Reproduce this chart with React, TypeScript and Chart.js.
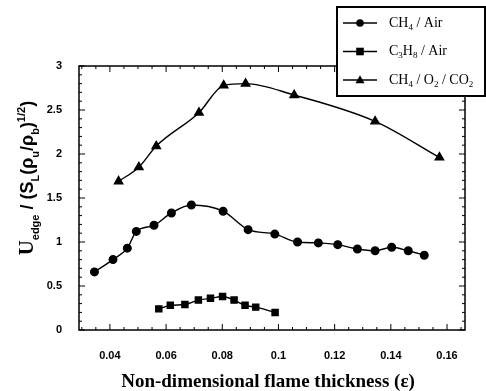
import React, { useEffect, useRef } from 'react';
import { Chart, registerables } from 'chart.js';

Chart.register(...registerables);

// ---- data ----
const seriesLabels = ['CH4 / Air', 'C3H8 / Air', 'CH4 / O2 / CO2'];

const ch4AirX = [0.0345, 0.0411, 0.0462, 0.0494, 0.0557, 0.0619, 0.069, 0.0803, 0.0892, 0.0987, 0.1068, 0.1142, 0.1211, 0.1281, 0.1344, 0.1403, 0.1462, 0.1519];
const ch4AirY = [0.66, 0.8, 0.93, 1.12, 1.19, 1.33, 1.42, 1.35, 1.14, 1.09, 1.0, 0.99, 0.97, 0.92, 0.9, 0.94, 0.9, 0.85];

const c3h8AirX = [0.0574, 0.0615, 0.0667, 0.0715, 0.0758, 0.0801, 0.0842, 0.0881, 0.0919, 0.0988];
const c3h8AirY = [0.24, 0.28, 0.29, 0.34, 0.36, 0.38, 0.34, 0.28, 0.26, 0.2];

const ch4O2Co2X = [0.0431, 0.0503, 0.0565, 0.0717, 0.0805, 0.0883, 0.1056, 0.1344, 0.1573];
const ch4O2Co2Y = [1.69, 1.85, 2.09, 2.47, 2.78, 2.8, 2.67, 2.37, 1.96];

const xTicks = [0.04, 0.06, 0.08, 0.1, 0.12, 0.14, 0.16];
const yTicks = [0, 0.5, 1, 1.5, 2, 2.5, 3];
const xTitle = 'Non-dimensional flame thickness (\u03b5)';

const markerStyles = ['circle', 'rect', 'triangle'];

const SERIF = '"Liberation Serif", "DejaVu Serif", serif';
const SANS = '"Liberation Sans", Arial, sans-serif';

type Seg = { t: string; pos?: 'sub' | 'sup'; font?: string; scale?: number };

function segSize(s: Seg, size: number) {
  const base = size * (s.scale || 1);
  return s.pos ? Math.round(size * 0.62) : base;
}

function drawSegs(ctx: CanvasRenderingContext2D, segs: Seg[], x: number, y: number, size: number, baseFont: string, weight: string) {
  let cx = x;
  for (const s of segs) {
    const fam = s.font || baseFont;
    const sz = segSize(s, size);
    ctx.font = `${weight} ${sz}px ${fam}`;
    const dy = s.pos === 'sub' ? size * 0.32 : s.pos === 'sup' ? -size * 0.45 : 0;
    ctx.fillText(s.t, cx, y + dy);
    cx += ctx.measureText(s.t).width;
  }
  return cx - x;
}

function measureSegs(ctx: CanvasRenderingContext2D, segs: Seg[], size: number, baseFont: string, weight: string) {
  let w = 0;
  for (const s of segs) {
    const fam = s.font || baseFont;
    ctx.font = `${weight} ${segSize(s, size)}px ${fam}`;
    w += ctx.measureText(s.t).width;
  }
  return w;
}

function labelToSegs(label: string): Seg[] {
  const segs: Seg[] = [];
  for (const ch of label) {
    const isDigit = /[0-9]/.test(ch);
    const last = segs[segs.length - 1];
    const pos = isDigit ? 'sub' : undefined;
    if (last && last.pos === pos) last.t += ch;
    else segs.push({ t: ch, pos });
  }
  return segs;
}

function drawMarker(ctx: CanvasRenderingContext2D, style: string, x: number, y: number) {
  ctx.beginPath();
  if (style === 'circle') {
    ctx.arc(x, y, 3.8, 0, Math.PI * 2);
  } else if (style === 'rect') {
    ctx.rect(x - 3.8, y - 3.8, 7.6, 7.6);
  } else {
    ctx.moveTo(x, y - 4.8);
    ctx.lineTo(x + 4.5, y + 3.2);
    ctx.lineTo(x - 4.5, y + 3.2);
    ctx.closePath();
  }
  ctx.fill();
}

const framePlugin = {
  id: 'framePlugin',
  afterDraw(chart: any) {
    const ctx: CanvasRenderingContext2D = chart.ctx;
    const a = chart.chartArea;
    const xs = chart.scales.x;
    const ys = chart.scales.y;
    ctx.save();
    ctx.strokeStyle = '#000';
    ctx.fillStyle = '#000';
    ctx.lineWidth = 1.5;
    ctx.strokeRect(a.left, a.top, a.right - a.left, a.bottom - a.top);

    ctx.lineWidth = 1;
    ctx.beginPath();
    for (let i = 0; i <= 40; i++) {
      const v = 0.02 + i * 0.005;
      if (v < xs.min || v > xs.max) continue;
      const major = Math.abs(v / 0.02 - Math.round(v / 0.02)) < 1e-6;
      const len = major ? 6 : 3;
      const px = xs.getPixelForValue(v);
      ctx.moveTo(px, a.bottom);
      ctx.lineTo(px, a.bottom - len);
      ctx.moveTo(px, a.top);
      ctx.lineTo(px, a.top + len);
    }
    for (let i = 0; i <= 30; i++) {
      const v = i * 0.1;
      const major = i % 5 === 0;
      const len = major ? 6 : 3;
      const py = ys.getPixelForValue(v);
      ctx.moveTo(a.left, py);
      ctx.lineTo(a.left + len, py);
      ctx.moveTo(a.right, py);
      ctx.lineTo(a.right - len, py);
    }
    ctx.stroke();

    // x title
    ctx.textBaseline = 'alphabetic';
    ctx.textAlign = 'center';
    ctx.font = `bold 19px ${SERIF}`;
    ctx.fillText(xTitle, 268, 387);

    // y title (rotated)
    const ySegs: Seg[] = [
      { t: 'U', font: SERIF, scale: 1.15 },
      { t: 'edge', pos: 'sub' },
      { t: ' / (S' },
      { t: 'L', pos: 'sub' },
      { t: '(\u03c1' },
      { t: 'u', pos: 'sub' },
      { t: '/\u03c1' },
      { t: 'b', pos: 'sub' },
      { t: ')' },
      { t: '1/2', pos: 'sup' },
      { t: ')' },
    ];
    ctx.save();
    ctx.translate(33, 178);
    ctx.rotate(-Math.PI / 2);
    ctx.textAlign = 'left';
    const w = measureSegs(ctx, ySegs, 18, SANS, 'bold');
    drawSegs(ctx, ySegs, -w / 2, 0, 18, SANS, 'bold');
    ctx.restore();

    // legend
    const bx = 337, by = 7, bw = 148, bh = 89;
    ctx.fillStyle = '#fff';
    ctx.fillRect(bx, by, bw, bh);
    ctx.fillStyle = '#000';
    ctx.lineWidth = 2;
    ctx.strokeRect(bx, by, bw, bh);
    ctx.textAlign = 'left';
    ctx.textBaseline = 'middle';
    chart.data.datasets.forEach((ds: any, i: number) => {
      const ry = 23 + i * 28.5;
      ctx.lineWidth = 1.3;
      ctx.beginPath();
      ctx.moveTo(343, ry);
      ctx.lineTo(377, ry);
      ctx.stroke();
      drawMarker(ctx, markerStyles[i], 360, ry);
      drawSegs(ctx, labelToSegs(ds.label), 389, ry, 14, SERIF, 'normal');
    });
    ctx.restore();
  },
};

export default function App() {
  const ref = useRef<HTMLCanvasElement | null>(null);
  useEffect(() => {
    const mk = (xs: number[], ys: number[]) => xs.map((x, i) => ({ x, y: ys[i] }));
    const common = {
      borderColor: '#000',
      backgroundColor: '#000',
      borderWidth: 1.4,
      pointBorderColor: '#000',
      pointBackgroundColor: '#000',
      cubicInterpolationMode: 'monotone',
      fill: false,
    };
    const chart = new Chart(ref.current as HTMLCanvasElement, {
      type: 'line',
      data: {
        datasets: [
          { ...common, label: seriesLabels[0], data: mk(ch4AirX, ch4AirY), pointStyle: 'circle', pointRadius: 3.8 },
          { ...common, label: seriesLabels[1], data: mk(c3h8AirX, c3h8AirY), pointStyle: 'rect', pointRadius: 4.3 },
          { ...common, label: seriesLabels[2], data: mk(ch4O2Co2X, ch4O2Co2Y), pointStyle: 'triangle', pointRadius: 4.8 },
        ],
      },
      options: {
        responsive: false,
        animation: false,
        events: [],
        layout: { padding: { left: 0, top: 66, right: 21, bottom: 0 } },
        plugins: { legend: { display: false }, tooltip: { enabled: false }, title: { display: false } },
        scales: {
          x: {
            type: 'linear',
            min: 0.029,
            max: 0.1664,
            grid: { display: false, drawTicks: false },
            border: { display: false },
            afterBuildTicks: (s: any) => { s.ticks = xTicks.map((v) => ({ value: v })); },
            afterFit: (s: any) => { s.height = 61; },
            ticks: {
              padding: 19,
              color: '#000',
              maxRotation: 0,
              autoSkip: false,
              font: { family: SANS, size: 11, weight: 'bold' },
              callback: (v: any) => String(Number(Number(v).toFixed(2))),
            },
          },
          y: {
            type: 'linear',
            min: 0,
            max: 3,
            grid: { display: false, drawTicks: false },
            border: { display: false },
            afterBuildTicks: (s: any) => { s.ticks = yTicks.map((v) => ({ value: v })); },
            afterFit: (s: any) => { s.width = 79; },
            ticks: {
              padding: 17,
              color: '#000',
              autoSkip: false,
              font: { family: SANS, size: 11, weight: 'bold' },
              callback: (v: any) => String(Number(Number(v).toFixed(1))),
            },
          },
        },
      },
      plugins: [framePlugin],
    } as any);
    return () => chart.destroy();
  }, []);
  return (
    <div style={{ position: 'fixed', left: 0, top: 0, width: 486, height: 391, background: '#fff' }}>
      <canvas ref={ref} width={486} height={391} style={{ display: 'block' }} />
    </div>
  );
}
